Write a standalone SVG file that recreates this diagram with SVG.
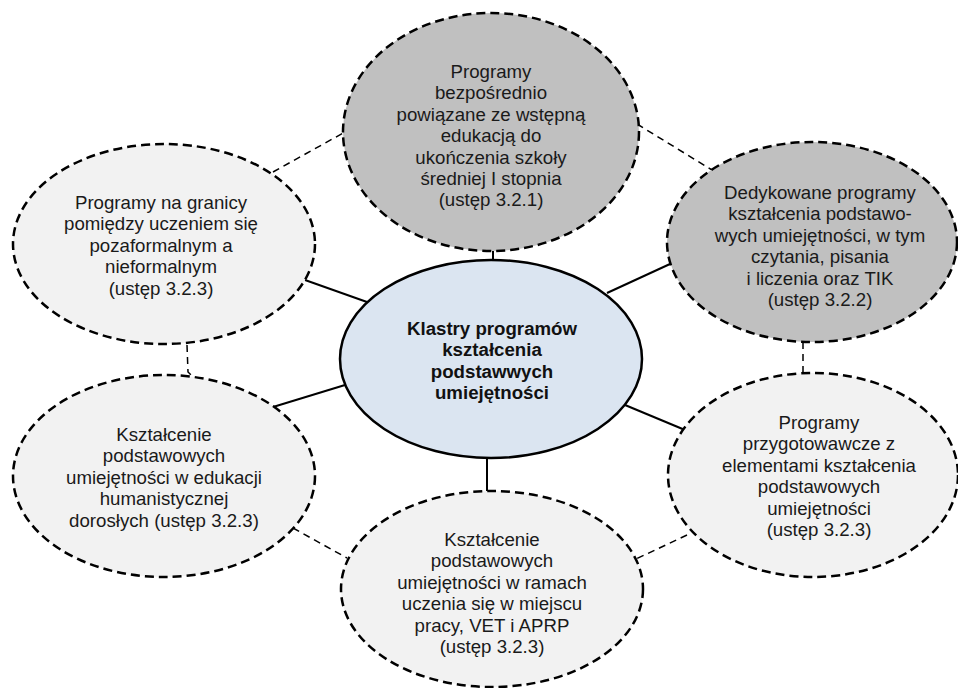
<svg xmlns="http://www.w3.org/2000/svg" width="958" height="688" viewBox="0 0 958 688">
  <style>
    .outer { stroke: #000; stroke-width: 2.5; stroke-dasharray: 9 5; }
    .dark { fill: #c0c0c0; }
    .light { fill: #f2f2f2; }
    .center { fill: #dbe5f1; stroke: #000; stroke-width: 2.5; }
    .solid { stroke: #000; stroke-width: 2; fill: none; }
    .dash { stroke: #000; stroke-width: 1.5; stroke-dasharray: 7 5; fill: none; }
    text { font-family: "Liberation Sans", Arial, sans-serif; font-size: 18.67px; fill: #1a1a1a; text-anchor: middle; }
    .bold { font-weight: bold; fill: #111; }
  </style>
  <rect width="958" height="688" fill="#fff"/>

  <g id="connectors">
    <line class="solid" x1="493" y1="251" x2="493" y2="261"/>
    <line class="solid" x1="607" y1="293" x2="670" y2="264"/>
    <line class="solid" x1="305" y1="280" x2="367" y2="302"/>
    <line class="solid" x1="273" y1="407" x2="345" y2="385"/>
    <line class="solid" x1="487" y1="457" x2="487" y2="491"/>
    <line class="solid" x1="625" y1="405" x2="685" y2="430"/>
    <line class="dash" x1="273" y1="172" x2="345" y2="132"/>
    <line class="dash" x1="637" y1="124" x2="712" y2="170"/>
    <polyline class="dash" points="803,342 803,372 800,375"/>
    <line class="dash" x1="687" y1="535" x2="636" y2="559"/>
    <line class="dash" x1="293" y1="528" x2="347" y2="558"/>
    <polyline class="dash" points="187,345 188,372 191,375"/>
  </g>

  <g id="node-top">
    <ellipse class="outer dark" cx="491" cy="132" rx="148" ry="119"/>
    <text x="491" y="78">Programy</text>
    <text x="491" y="99.4">bezpośrednio</text>
    <text x="491" y="120.8">powiązane ze wstępną</text>
    <text x="491" y="142.2">edukacją do</text>
    <text x="491" y="163.6">ukończenia szkoły</text>
    <text x="491" y="185">średniej I stopnia</text>
    <text x="491" y="206.4">(ustęp 3.2.1)</text>
  </g>

  <g id="node-top-right">
    <ellipse class="outer dark" cx="812" cy="242" rx="145" ry="100"/>
    <text x="820" y="199">Dedykowane programy</text>
    <text x="820" y="220.4">kształcenia podstawo-</text>
    <text x="820" y="241.8">wych umiejętności, w tym</text>
    <text x="820" y="263.2">czytania, pisania</text>
    <text x="820" y="284.6">i liczenia oraz TIK</text>
    <text x="820" y="306">(ustęp 3.2.2)</text>
  </g>

  <g id="node-top-left">
    <ellipse class="outer light" cx="164" cy="244" rx="151" ry="100"/>
    <text x="161" y="209">Programy na granicy</text>
    <text x="161" y="230.4">pomiędzy uczeniem się</text>
    <text x="161" y="251.8">pozaformalnym a</text>
    <text x="161" y="273.2">nieformalnym</text>
    <text x="161" y="294.6">(ustęp 3.2.3)</text>
  </g>

  <g id="node-bottom-left">
    <ellipse class="outer light" cx="164" cy="476" rx="151" ry="101"/>
    <text x="164" y="441">Kształcenie</text>
    <text x="164" y="462.4">podstawowych</text>
    <text x="164" y="483.8">umiejętności w edukacji</text>
    <text x="164" y="505.2">humanistycznej</text>
    <text x="164" y="526.6">dorosłych (ustęp 3.2.3)</text>
  </g>

  <g id="node-bottom">
    <ellipse class="outer light" cx="492" cy="589" rx="151" ry="98"/>
    <text x="492" y="546">Kształcenie</text>
    <text x="492" y="567.4">podstawowych</text>
    <text x="492" y="588.8">umiejętności w ramach</text>
    <text x="492" y="610.2">uczenia się w miejscu</text>
    <text x="492" y="631.6">pracy, VET i APRP</text>
    <text x="492" y="653">(ustęp 3.2.3)</text>
  </g>

  <g id="node-bottom-right">
    <ellipse class="outer light" cx="813" cy="475" rx="145" ry="102"/>
    <text x="819" y="429">Programy</text>
    <text x="819" y="450.4">przygotowawcze z</text>
    <text x="819" y="471.8">elementami kształcenia</text>
    <text x="819" y="493.2">podstawowych</text>
    <text x="819" y="514.6">umiejętności</text>
    <text x="819" y="536">(ustęp 3.2.3)</text>
  </g>

  <g id="node-center">
    <ellipse class="center" cx="491" cy="359" rx="151" ry="99"/>
    <text class="bold" x="492" y="335">Klastry programów</text>
    <text class="bold" x="492" y="356.4">kształcenia</text>
    <text class="bold" x="492" y="377.8">podstawwych</text>
    <text class="bold" x="492" y="399.2">umiejętności</text>
  </g>
</svg>
